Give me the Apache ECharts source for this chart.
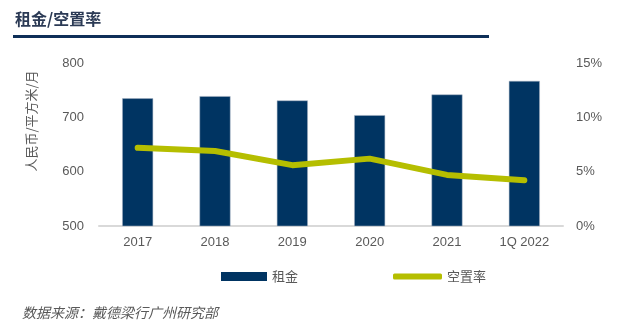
<!DOCTYPE html>
<html><head><meta charset="utf-8">
<script src="https://cdn.jsdelivr.net/npm/echarts@6/dist/echarts.min.js"></script>
<style>html,body{margin:0;padding:0;background:#fff}#c{width:625px;height:333px}</style>
</head><body><div id="c"></div>
<script>
var categories = ['2017','2018','2019','2020','2021','1Q 2022'];
var rent = [735, 739, 731, 704, 742, 767];
var vacancy = [7.2, 6.9, 5.6, 6.2, 4.7, 4.2];
var leftTicks = [500, 600, 700, 800];
var rightTicks = [0, 5, 10, 15];

var FONT = '"Liberation Sans", Arial, "Noto Sans CJK SC", sans-serif';
var CJK = '"Noto Sans CJK SC", sans-serif';
var chart = echarts.init(document.getElementById('c'));
chart.setOption({
  animation: false,
  textStyle: {fontFamily: FONT},
  title: {
    text: '租金/空置率', left: 10, top: 6,
    textStyle: {fontSize: 16, fontWeight: 'bold', color: '#2b3a55', fontFamily: CJK}
  },
  graphic: [
    {type: 'rect', shape: {x: 13, y: 35, width: 476, height: 3}, style: {fill: '#0e2f58'}},
    {type: 'text', x: 31, y: 121, rotation: Math.PI / 2,
     style: {text: '人民币/平方米/月', fill: '#595959', font: '13px ' + CJK, align: 'center', verticalAlign: 'middle'}},
    {type: 'text', left: 22, top: 306, style: {text: '数据来源：戴德梁行广州研究部', fill: '#595959',
      font: 'italic 14px ' + CJK}}
  ],
  grid: {left: 99, right: 62, top: 63, bottom: 107},
  legend: [
    {left: 216, top: 265, itemWidth: 46, itemHeight: 9,
     textStyle: {fontSize: 13, color: '#595959', fontFamily: CJK},
     itemStyle: {borderWidth: 0},
     data: [{name: '租金', icon: 'rect'}]},
    {left: 388, top: 265, itemWidth: 49, itemHeight: 6,
     textStyle: {fontSize: 13, color: '#595959', fontFamily: CJK},
     data: [{name: '空置率', icon: 'roundRect', itemStyle: {color: '#b5be00'}}]}
  ],
  xAxis: {
    type: 'category', data: categories,
    axisLine: {lineStyle: {color: '#d9d9d9', width: 2}},
    axisTick: {show: false},
    axisLabel: {fontSize: 13, color: '#595959', margin: 10}
  },
  yAxis: [
    {type: 'value', min: 500, max: 800, interval: 100,
     axisLabel: {fontSize: 13, color: '#595959', margin: 15},
     splitLine: {show: false}, axisLine: {show: false}, axisTick: {show: false}},
    {type: 'value', min: 0, max: 15, interval: 5,
     axisLabel: {fontSize: 13, color: '#595959', margin: 13, formatter: '{value}%'},
     splitLine: {show: false}, axisLine: {show: false}, axisTick: {show: false}}
  ],
  series: [
    {name: '租金', type: 'bar', data: rent, barWidth: '40%',
     itemStyle: {color: '#003462', borderColor: '#a9b4c4', borderWidth: 0.5}},
    {name: '空置率', type: 'line', yAxisIndex: 1, data: vacancy, symbol: 'none',
     lineStyle: {color: '#b5be00', width: 6, cap: 'round', join: 'round'},
     itemStyle: {color: '#b5be00'}}
  ]
});
</script></body></html>
